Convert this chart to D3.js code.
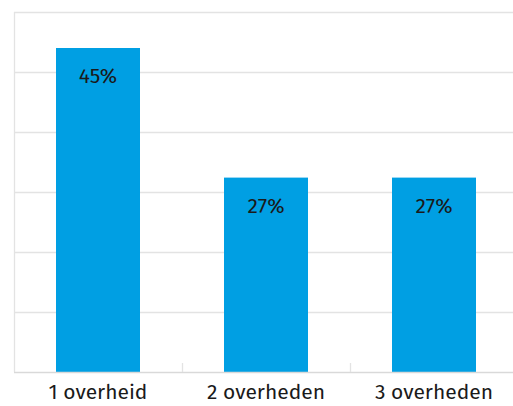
<!DOCTYPE html>
<html>
<head>
<meta charset="utf-8">
<script src="https://cdn.jsdelivr.net/npm/d3@7"></script>
<style>
  body { margin: 0; background: #fff; }
  text { font-family: "Fira Sans", "Noto Sans", sans-serif; fill: #1a1a1a; }
</style>
</head>
<body>
<div id="chart"></div>
<script>
// data
var categories = ["1 overheid", "2 overheden", "3 overheden"];
var values = [45, 27, 27];
var valueLabels = ["45%", "27%", "27%"];
var yMax = 50;
var gridCount = 6;

var svgWidth = 513;
var svgHeight = 406;

var margin = { top: 12, right: -5, bottom: 34, left: 14 };

var width = svgWidth - margin.left - margin.right;
var height = svgHeight - margin.top - margin.bottom;

var svg = d3.select("#chart")
  .append("svg")
  .attr("width", svgWidth)
  .attr("height", svgHeight);

var chartGroup = svg.append("g")
  .attr("transform", `translate(${margin.left}, ${margin.top})`);

var xScale = d3.scaleBand()
  .domain(categories)
  .range([0, width])
  .paddingInner(0.5)
  .paddingOuter(0.25);

var yScale = d3.scaleLinear()
  .domain([0, yMax])
  .range([height, 0]);

// horizontal gridlines
var gridValues = d3.range(1, gridCount + 1).map(i => yMax * i / gridCount);
chartGroup.selectAll(".grid")
  .data(gridValues)
  .enter()
  .append("line")
  .attr("x1", 0)
  .attr("x2", width)
  .attr("y1", d => Math.round(yScale(d)) + 0.5)
  .attr("y2", d => Math.round(yScale(d)) + 0.5)
  .attr("stroke", "#e3e3e3")
  .attr("stroke-width", 1.3);

// left border
chartGroup.append("line")
  .attr("x1", 0.5).attr("x2", 0.5)
  .attr("y1", yScale(yMax)).attr("y2", height)
  .attr("stroke", "#e3e3e3")
  .attr("stroke-width", 1.3);

// bars
chartGroup.selectAll(".bar")
  .data(values)
  .enter()
  .append("rect")
  .attr("x", (d, i) => xScale(categories[i]))
  .attr("y", d => yScale(d))
  .attr("width", xScale.bandwidth())
  .attr("height", d => height - yScale(d))
  .attr("fill", "#009fe3");

// value labels inside bars
chartGroup.selectAll(".valueLabel")
  .data(values)
  .enter()
  .append("text")
  .attr("x", (d, i) => xScale(categories[i]) + xScale.bandwidth() / 2)
  .attr("y", d => yScale(d) + 35)
  .attr("text-anchor", "middle")
  .style("font-size", "21px")
  .text((d, i) => valueLabels[i]);

// x axis
var bottomAxis = d3.axisBottom(xScale).tickSize(0).tickPadding(12);
var xAxis = chartGroup.append("g")
  .attr("transform", `translate(0, ${height})`)
  .call(bottomAxis);
xAxis.select(".domain").remove();
xAxis.selectAll("text")
  .style("font-size", "21px")
  .attr("fill", "#1a1a1a");

// baseline
chartGroup.append("line")
  .attr("x1", 0).attr("x2", width)
  .attr("y1", height + 0.5).attr("y2", height + 0.5)
  .attr("stroke", "#d9d9d9")
  .attr("stroke-width", 1.3);

// category divider ticks
var step = xScale.step();
chartGroup.selectAll(".divTick")
  .data(categories.slice(1))
  .enter()
  .append("line")
  .attr("x1", d => xScale(d) - step / 4 + 0.5)
  .attr("x2", d => xScale(d) - step / 4 + 0.5)
  .attr("y1", height - 9)
  .attr("y2", height)
  .attr("stroke", "#e3e3e3")
  .attr("stroke-width", 1.3);
</script>
</body>
</html>
